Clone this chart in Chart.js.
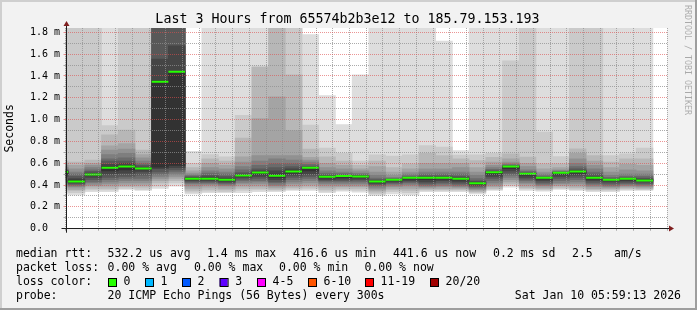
<!DOCTYPE html>
<html>
<head>
<meta charset="utf-8">
<title>Last 3 Hours from 65574b2b3e12 to 185.79.153.193</title>
<script src="https://cdn.jsdelivr.net/npm/chart.js@4/dist/chart.umd.min.js"></script>
<style>
  html, body { margin: 0; padding: 0; background: #f2f2f2; }
  #wrap { width: 697px; height: 310px; }
</style>
</head>
<body>
<div id="wrap"><canvas id="chart" width="697" height="310"></canvas></div>
<script>
// SmokePing style graph: 20 pings every 5 minutes, smoke = spread of the sorted pings

const TITLE = 'Last 3 Hours from 65574b2b3e12 to 185.79.153.193'
const RANGE_START = '02:59:13'
const RANGE_END = '05:59:13'
const STEP_MIN = 5

// start of every 5 minute slot
const slotStart = [
  '02:55', '03:00', '03:05', '03:10', '03:15', '03:20', '03:25', '03:30', '03:35',
  '03:40', '03:45', '03:50', '03:55', '04:00', '04:05', '04:10', '04:15', '04:20',
  '04:25', '04:30', '04:35', '04:40', '04:45', '04:50', '04:55', '05:00', '05:05',
  '05:10', '05:15', '05:20', '05:25', '05:30', '05:35', '05:40', '05:45', '05:50'
]

// median rtt (ms) per slot
const medianRtt = [
  0.52, 0.433, 0.497, 0.558, 0.571, 0.552, 1.348, 1.44, 0.458,
  0.458, 0.448, 0.488, 0.515, 0.485, 0.524, 0.558, 0.476, 0.484,
  0.479, 0.433, 0.448, 0.466, 0.466, 0.466, 0.457, 0.417, 0.518,
  0.57, 0.503, 0.466, 0.513, 0.525, 0.466, 0.448, 0.457, 0.442
]

// upper pings per slot (ms), outermost (max) -> innermost
const smokeTop = [
  [2, 2, 0.62, 0.6, 0.58, 0.56, 0.545, 0.535, 0.53, 0.525],
  [2, 2, 0.61, 0.58, 0.55, 0.52, 0.5, 0.48, 0.46, 0.445],
  [2, 2, 0.63, 0.6, 0.58, 0.56, 0.54, 0.525, 0.51, 0.5],
  [2, 0.946, 0.86, 0.76, 0.72, 0.68, 0.64, 0.62, 0.59, 0.57],
  [2, 2, 0.905, 0.78, 0.73, 0.69, 0.65, 0.62, 0.6, 0.58],
  [2, 2, 0.72, 0.68, 0.65, 0.62, 0.6, 0.58, 0.565, 0.555],
  [2, 2, 2, 2, 2, 2, 2, 2, 1.555, 1.358],
  [2, 2, 2, 2, 2, 2, 2, 2, 1.677, 1.44],
  [0.71, 0.6, 0.56, 0.53, 0.51, 0.495, 0.485, 0.475, 0.468, 0.462],
  [2, 0.68, 0.64, 0.6, 0.56, 0.53, 0.51, 0.49, 0.475, 0.465],
  [2, 0.66, 0.62, 0.58, 0.55, 0.52, 0.5, 0.48, 0.465, 0.455],
  [2, 1.04, 0.83, 0.66, 0.61, 0.57, 0.54, 0.515, 0.5, 0.492],
  [2, 1.49, 1.48, 1.01, 0.67, 0.62, 0.58, 0.55, 0.53, 0.52],
  [2, 2, 2, 1.21, 0.67, 0.64, 0.6, 0.56, 0.53, 0.5],
  [2, 2, 1.41, 0.9, 0.67, 0.63, 0.6, 0.57, 0.55, 0.535],
  [1.78, 0.95, 0.73, 0.655, 0.63, 0.61, 0.59, 0.575, 0.565, 0.56],
  [1.22, 0.74, 0.66, 0.6, 0.56, 0.53, 0.51, 0.495, 0.485, 0.48],
  [0.955, 0.69, 0.62, 0.58, 0.55, 0.52, 0.505, 0.495, 0.49, 0.486],
  [1.41, 0.62, 0.58, 0.55, 0.53, 0.51, 0.5, 0.49, 0.485, 0.482],
  [2, 0.677, 0.62, 0.57, 0.52, 0.49, 0.465, 0.45, 0.44, 0.436],
  [2, 0.665, 0.56, 0.52, 0.49, 0.47, 0.46, 0.455, 0.452, 0.45],
  [2, 0.677, 0.595, 0.55, 0.52, 0.5, 0.485, 0.475, 0.47, 0.468],
  [2, 0.762, 0.69, 0.6, 0.55, 0.52, 0.5, 0.485, 0.475, 0.468],
  [1.72, 0.748, 0.67, 0.6, 0.55, 0.52, 0.5, 0.485, 0.475, 0.468],
  [0.717, 0.675, 0.64, 0.6, 0.56, 0.52, 0.5, 0.48, 0.468, 0.46],
  [2, 0.677, 0.625, 0.56, 0.52, 0.49, 0.46, 0.44, 0.43, 0.425],
  [2, 0.69, 0.655, 0.61, 0.58, 0.56, 0.545, 0.53, 0.525, 0.52],
  [2, 1.54, 0.687, 0.64, 0.61, 0.595, 0.585, 0.578, 0.574, 0.572],
  [2, 2, 0.656, 0.6, 0.57, 0.54, 0.525, 0.515, 0.508, 0.505],
  [2, 0.885, 0.595, 0.55, 0.52, 0.5, 0.485, 0.475, 0.47, 0.468],
  [2, 0.662, 0.595, 0.56, 0.54, 0.53, 0.522, 0.518, 0.516, 0.515],
  [2, 2, 0.732, 0.69, 0.64, 0.6, 0.57, 0.55, 0.535, 0.528],
  [2, 2, 0.67, 0.62, 0.58, 0.55, 0.52, 0.5, 0.48, 0.47],
  [2, 0.67, 0.61, 0.56, 0.52, 0.49, 0.47, 0.458, 0.452, 0.45],
  [2, 0.687, 0.64, 0.59, 0.54, 0.5, 0.48, 0.468, 0.462, 0.459],
  [2, 0.74, 0.64, 0.58, 0.53, 0.5, 0.48, 0.465, 0.455, 0.45]
]

// lower pings per slot (ms), outermost (min) -> innermost
const smokeBottom = [
  [0.32, 0.34, 0.36, 0.38, 0.4, 0.42, 0.44, 0.46, 0.48, 0.5],
  [0.31, 0.33, 0.35, 0.36, 0.38, 0.39, 0.4, 0.41, 0.42, 0.43],
  [0.34, 0.355, 0.37, 0.39, 0.4, 0.42, 0.43, 0.45, 0.47, 0.49],
  [0.34, 0.355, 0.37, 0.39, 0.41, 0.43, 0.45, 0.47, 0.5, 0.53],
  [0.36, 0.37, 0.385, 0.4, 0.42, 0.44, 0.46, 0.48, 0.51, 0.54],
  [0.35, 0.36, 0.38, 0.4, 0.42, 0.44, 0.46, 0.49, 0.52, 0.54],
  [0.37, 0.39, 0.42, 0.44, 0.46, 0.48, 0.5, 0.52, 0.55, 0.565],
  [0.39, 0.42, 0.44, 0.46, 0.48, 0.5, 0.52, 0.54, 0.56, 0.58],
  [0.32, 0.335, 0.35, 0.37, 0.39, 0.41, 0.42, 0.43, 0.44, 0.45],
  [0.33, 0.345, 0.36, 0.38, 0.4, 0.41, 0.42, 0.43, 0.44, 0.45],
  [0.33, 0.34, 0.355, 0.37, 0.39, 0.4, 0.41, 0.42, 0.43, 0.44],
  [0.33, 0.35, 0.37, 0.39, 0.41, 0.425, 0.44, 0.455, 0.47, 0.48],
  [0.34, 0.355, 0.37, 0.39, 0.41, 0.43, 0.44, 0.46, 0.48, 0.5],
  [0.34, 0.35, 0.36, 0.375, 0.39, 0.4, 0.42, 0.43, 0.45, 0.47],
  [0.35, 0.36, 0.375, 0.39, 0.41, 0.43, 0.45, 0.47, 0.49, 0.51],
  [0.35, 0.365, 0.38, 0.4, 0.42, 0.44, 0.46, 0.48, 0.5, 0.53],
  [0.33, 0.345, 0.36, 0.38, 0.4, 0.415, 0.43, 0.44, 0.45, 0.465],
  [0.345, 0.355, 0.37, 0.385, 0.4, 0.415, 0.43, 0.44, 0.455, 0.47],
  [0.335, 0.35, 0.37, 0.385, 0.4, 0.415, 0.43, 0.445, 0.455, 0.47],
  [0.305, 0.32, 0.335, 0.35, 0.365, 0.38, 0.395, 0.405, 0.415, 0.425],
  [0.32, 0.34, 0.355, 0.37, 0.385, 0.4, 0.41, 0.42, 0.43, 0.44],
  [0.31, 0.33, 0.35, 0.37, 0.39, 0.405, 0.42, 0.43, 0.44, 0.455],
  [0.34, 0.35, 0.36, 0.37, 0.38, 0.39, 0.4, 0.415, 0.43, 0.45],
  [0.34, 0.35, 0.36, 0.37, 0.385, 0.395, 0.41, 0.425, 0.44, 0.455],
  [0.34, 0.35, 0.36, 0.37, 0.38, 0.39, 0.4, 0.415, 0.43, 0.445],
  [0.32, 0.33, 0.34, 0.35, 0.36, 0.37, 0.38, 0.39, 0.4, 0.41],
  [0.35, 0.36, 0.37, 0.385, 0.4, 0.42, 0.44, 0.46, 0.48, 0.5],
  [0.38, 0.395, 0.41, 0.43, 0.45, 0.47, 0.49, 0.51, 0.53, 0.55],
  [0.35, 0.365, 0.375, 0.39, 0.41, 0.425, 0.44, 0.455, 0.47, 0.49],
  [0.345, 0.355, 0.365, 0.375, 0.39, 0.4, 0.41, 0.425, 0.44, 0.455],
  [0.36, 0.37, 0.38, 0.395, 0.41, 0.42, 0.44, 0.46, 0.48, 0.5],
  [0.35, 0.36, 0.375, 0.39, 0.41, 0.43, 0.45, 0.47, 0.49, 0.51],
  [0.34, 0.35, 0.36, 0.37, 0.385, 0.4, 0.41, 0.425, 0.44, 0.455],
  [0.34, 0.35, 0.36, 0.37, 0.38, 0.39, 0.4, 0.415, 0.43, 0.44],
  [0.35, 0.36, 0.37, 0.38, 0.39, 0.4, 0.41, 0.42, 0.435, 0.445],
  [0.35, 0.357, 0.365, 0.375, 0.385, 0.395, 0.405, 0.415, 0.43, 0.44]
]

// x axis labels (every 20 minutes from 03:00)
const timeLabels = ['03:00', '03:20', '03:40', '04:00', '04:20', '04:40', '05:00', '05:20', '05:40']

// legend texts
const rttSummary = ['532.2 us avg', '1.4 ms max', '416.6 us min', '441.6 us now', '0.2 ms sd', '2.5', 'am/s']
const lossSummary = ['0.00 % avg', '0.00 % max', '0.00 % min', '0.00 % now']
const lossLabels = ['0', '1', '2', '3', '4-5', '6-10', '11-19', '20/20']
const lossColors = ['#26ff00', '#00b8ff', '#0059ff', '#5e00ff', '#ff00ff', '#ff5500', '#ff0000', '#a10000']
const probeText = '20 ICMP Echo Pings (56 Bytes) every 300s'
const stampText = 'Sat Jan 10 05:59:13 2026'

// ---------- helpers ----------

const FONT = 'DejaVu Sans Mono'
const toMin = (s) => {
  const [h, m, sec] = s.split(':').map(Number)
  return (h - 3) * 60 + m + (sec || 0) / 60
}
const slotCenter = slotStart.map(s => toMin(s) + STEP_MIN / 2)
const LAYERS = smokeTop[0].length
// SmokePing shade: lighter for the outer pings
const shade = (i) => {
  const g = Math.floor(190 / LAYERS * (LAYERS - i)) + 50
  return `rgb(${g},${g},${g})`
}

const GRID_MINOR = 'rgba(143,143,143,0.75)'
const GRID_MAJOR = 'rgba(222,79,79,0.6)'

// ---------- datasets ----------

const datasets = []
for (let i = 0; i < LAYERS; i++) {
  datasets.push({
    type: 'bar',
    label: 'smoke ' + (i + 1),
    data: slotCenter.map((x, k) => ({ x, y: [smokeBottom[k][i], smokeTop[k][i]] })),
    backgroundColor: shade(i + 1),
    borderWidth: 0,
    grouped: false,
    barPercentage: 1,
    categoryPercentage: 1,
    order: LAYERS - i
  })
}
datasets.push({
  type: 'scatter',
  label: 'median rtt',
  data: slotCenter.map((x, k) => ({ x, y: medianRtt[k] })),
  pointStyle: 'line',
  borderColor: lossColors[0],
  borderWidth: 2,
  pointRadius: (ctx) => {
    const s = ctx.chart.scales.x
    return (s.getPixelForValue(STEP_MIN) - s.getPixelForValue(0)) / 2
  },
  clip: 0,
  order: 0
})

// ---------- frame, title, axes arrows, legend ----------

const rrdDecor = {
  id: 'rrdDecor',
  beforeDraw (chart) {
    const { ctx, width, height, chartArea: a } = chart
    ctx.save()
    ctx.fillStyle = '#f2f2f2'
    ctx.fillRect(0, 0, width, height)
    ctx.fillStyle = '#cfcfcf'
    ctx.fillRect(0, 0, width, 2)
    ctx.fillRect(0, 0, 2, height)
    ctx.fillStyle = '#9e9e9e'
    ctx.fillRect(0, height - 2, width, 2)
    ctx.fillRect(width - 2, 0, 2, height)
    ctx.fillStyle = '#ffffff'
    ctx.fillRect(a.left, a.top, a.right - a.left, a.bottom - a.top)
    ctx.restore()
  },
  afterDraw (chart) {
    const { ctx, chartArea: a } = chart
    ctx.save()

    // axis lines + arrows
    const ox = Math.round(a.left) + 0.5
    const oy = Math.floor(a.bottom) + 0.5
    ctx.strokeStyle = '#1f1f1f'
    ctx.lineWidth = 1
    ctx.beginPath()
    ctx.moveTo(a.left - 4, oy)
    ctx.lineTo(a.right + 4, oy)
    ctx.moveTo(ox, a.bottom + 4)
    ctx.lineTo(ox, a.top - 4)
    ctx.stroke()
    ctx.fillStyle = '#7f1f1f'
    ctx.beginPath()
    ctx.moveTo(a.right + 2, oy - 3)
    ctx.lineTo(a.right + 2, oy + 3)
    ctx.lineTo(a.right + 7, oy)
    ctx.closePath()
    ctx.fill()
    ctx.beginPath()
    ctx.moveTo(ox - 3, a.top - 2)
    ctx.lineTo(ox + 3, a.top - 2)
    ctx.lineTo(ox, a.top - 7)
    ctx.closePath()
    ctx.fill()

    // title
    ctx.fillStyle = '#000'
    ctx.textBaseline = 'middle'
    ctx.textAlign = 'center'
    ctx.font = `13.3px "${FONT}"`
    ctx.fillText(TITLE, 347.5, 19.5)

    // watermark
    ctx.save()
    ctx.translate(687, 5)
    ctx.rotate(Math.PI / 2)
    ctx.textAlign = 'left'
    ctx.fillStyle = 'rgba(0,0,0,0.3)'
    ctx.font = `8.3px "${FONT}"`
    ctx.fillText('RRDTOOL / TOBI OETIKER', 0, 0)
    ctx.restore()

    // legend
    const rowY = [254, 268, 282, 296]
    const rttCols = [107.6, 207, 293, 393, 493, 572, 614]
    const lossCols = [107.6, 194, 279, 364.5]
    const swatchCols = [108, 145, 182, 219.6, 257, 308, 365, 430]
    ctx.font = `11.5px "${FONT}"`
    ctx.textAlign = 'left'
    ctx.fillStyle = '#000'
    ctx.fillText('median rtt:', 16, rowY[0])
    rttSummary.forEach((t, i) => ctx.fillText(t, rttCols[i], rowY[0]))
    ctx.fillText('packet loss:', 16, rowY[1])
    lossSummary.forEach((t, i) => ctx.fillText(t, lossCols[i], rowY[1]))
    ctx.fillText('loss color:', 16, rowY[2])
    lossLabels.forEach((t, i) => {
      const x = swatchCols[i]
      ctx.fillStyle = lossColors[i]
      ctx.fillRect(x, rowY[2] - 4, 8, 8)
      ctx.strokeStyle = '#000'
      ctx.strokeRect(x + 0.5, rowY[2] - 3.5, 8, 8)
      ctx.fillStyle = '#000'
      ctx.fillText(t, x + 15.6, rowY[2])
    })
    ctx.fillText('probe:', 16, rowY[3])
    ctx.fillText(probeText, 107.6, rowY[3])
    ctx.textAlign = 'right'
    ctx.fillText(stampText, 681, rowY[3])

    ctx.restore()
  }
}

// ---------- chart ----------

const isMajorY = (v) => Math.round(v * 10) % 2 === 0
const isMajorX = (v) => Math.round(v) % 20 === 0

new Chart(document.getElementById('chart'), {
  type: 'bar',
  data: { datasets },
  plugins: [rrdDecor],
  options: {
    responsive: false,
    animation: false,
    devicePixelRatio: 1,
    events: [],
    layout: { padding: { top: 28, right: 30, bottom: 0, left: 0 } },
    plugins: {
      legend: { display: false },
      title: { display: false },
      tooltip: { enabled: false }
    },
    scales: {
      x: {
        type: 'linear',
        offset: false,
        min: toMin(RANGE_START),
        max: toMin(RANGE_END),
        afterFit: (s) => { s.height = 81.3 },
        grid: {
          offset: false,
          z: 1,
          color: (ctx) => isMajorX(ctx.tick.value) ? GRID_MAJOR : GRID_MINOR,
          lineWidth: 1,
          drawTicks: true,
          tickLength: 2
        },
        border: { display: false, dash: [1, 1] },
        ticks: {
          stepSize: STEP_MIN,
          includeBounds: false,
          autoSkip: false,
          maxRotation: 0,
          padding: 1,
          color: '#000',
          font: { family: FONT, size: 10 },
          callback: (v) => isMajorX(v) ? (timeLabels[Math.round(v / 20)] || '') : ''
        }
      },
      y: {
        type: 'linear',
        min: 0,
        max: 1.84,
        afterFit: (s) => { s.width = 65.5 },
        grid: {
          z: 1,
          color: (ctx) => isMajorY(ctx.tick.value) ? GRID_MAJOR : GRID_MINOR,
          lineWidth: 1,
          drawTicks: true,
          tickLength: 2
        },
        border: { display: false, dash: [1, 1] },
        title: {
          display: true,
          text: 'Seconds',
          color: '#000',
          font: { family: FONT, size: 11.5 },
          padding: { top: 3, bottom: 0 }
        },
        ticks: {
          stepSize: 0.1,
          includeBounds: false,
          autoSkip: false,
          padding: 3.5,
          color: '#000',
          font: { family: FONT, size: 10 },
          callback: (v) => {
            if (!isMajorY(v)) return ''
            return v === 0 ? '0.0  ' : v.toFixed(1) + ' m'
          }
        }
      }
    }
  }
})
</script>
</body>
</html>
